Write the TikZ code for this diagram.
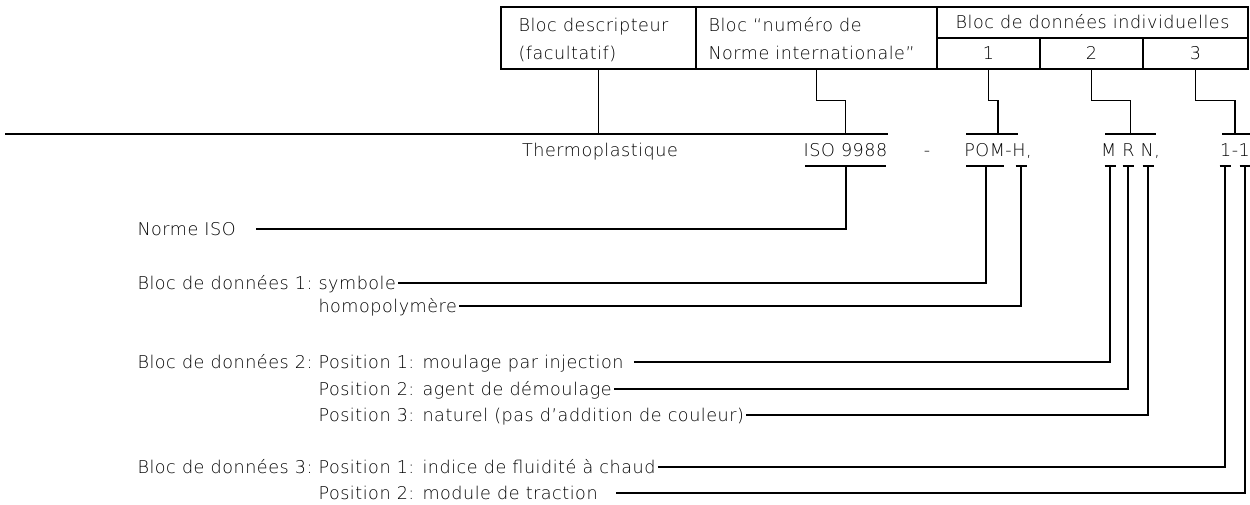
\documentclass[tikz,border=0pt]{standalone}
\usepackage{fontspec}
\usepackage{tikz}
\newfontfamily\isofont{DejaVu Sans}[UprightFont={* ExtraLight}, LetterSpace=3]

\tikzset{
  txt/.style={font=\isofont\fontsize{10}{12}\selectfont, inner sep=0pt, text height=7.3pt, text depth=0pt},
  cell/.style={draw, txt},
  lbl/.style={txt, anchor=west},
}

\begin{document}
\begin{tikzpicture}[x=0.2mm,y=-0.2mm,line width=0.6pt]
            \useasboundingbox (0,0) rectangle (1250,504);

            \node[cell, minimum width=39mm, minimum height=12.4mm] (desc) at (598.5,38) {};
            \node[cell, minimum width=48.2mm, minimum height=12.4mm] (num) at (816.5,38) {};
            \node[cell, minimum width=62.2mm, minimum height=6.2mm] (indiv) at (1092.5,22.5) {Bloc de données individuelles};
            \node[cell, minimum width=20.6mm, minimum height=6.2mm] (c1) at (988.5,53.5) {1};
            \node[cell, minimum width=20.6mm, minimum height=6.2mm] (c2) at (1091.5,53.5) {2};
            \node[cell, minimum width=21mm, minimum height=6.2mm] (c3) at (1195.5,53.5) {3};

            \node[lbl] (descA) at (518,25) {Bloc descripteur};
            \node[lbl] (descB) at (518,53) {(facultatif)};
            \node[lbl] (numA) at (708,25) {Bloc “numéro de};
            \node[lbl] (numB) at (708,53) {Norme internationale”};

            \node[txt] (thermo) at (600,150) {Thermoplastique};
            \node[txt] (iso) at (845.5,150) {ISO 9988};
            \node[txt] (dash) at (927,150) {-};
            \node[txt] (pom) at (998,150) {POM-H,};
            \node[txt] (mrn) at (1130.5,150) {M R N,};
            \node[txt] (oneone) at (1235,150) {1-1};

            \coordinate (top) at (5,134);
            \draw (top) -- (top -| iso.east);
            \draw (966,134) -- (1018,134);
            \draw (1105,134) -- (1156,134);
            \draw (1222,134) -- (1250,134);

            \draw (desc.south) -- (desc.south |- top);
            \draw (num.south) -- ++(0,31) -| (iso.north |- top);
            \draw (c1.south) -- ++(0,31) -| (pom.north |- top);
            \draw (c2.south) -- ++(0,31) -| (mrn.north |- top);
            \draw (c3.south) -- ++(0,31) -| (oneone.north |- top);

            \draw (805,166) -- (886,166);
            \draw (966,166) -- (1004,166);
            \coordinate (tI) at (846,166);
            \coordinate (tP) at (986,166);
            \foreach \x/\name in {1021/tH, 1110/tM, 1128/tR, 1148/tN, 1225/tA, 1245/tB} {
              \draw (\x-5.5,166) -- (\x+5.5,166);
              \coordinate (\name) at (\x,166);
            }

            \node[lbl] (norme) at (137,229) {Norme ISO};
            \node[lbl] (bloc1) at (137,283) {Bloc de données 1:};
            \node[lbl] (symb) at (318,283) {symbole};
            \node[lbl] (homo) at (318,306) {homopolymère};
            \node[lbl] (bloc2) at (137,362) {Bloc de données 2:};
            \node[lbl] (p21) at (318,362) {Position 1: moulage par injection};
            \node[lbl] (p22) at (318,389) {Position 2: agent de démoulage};
            \node[lbl] (p23) at (318,415) {Position 3: naturel (pas d’addition de couleur)};
            \node[lbl] (bloc3) at (137,467) {Bloc de données 3:};
            \node[lbl] (p31) at (318,467) {Position 1: indice de fluidité à chaud};
            \node[lbl] (p32) at (318,493) {Position 2: module de traction};

            \draw ([xshift=4mm]norme.east) -| (tI);
            \draw ([xshift=0.4mm]symb.east) -| (tP);
            \draw ([xshift=0.4mm]homo.east) -| (tH);
            \draw ([xshift=2mm]p21.east) -| (tM);
            \draw ([xshift=0.4mm]p22.east) -| (tR);
            \draw ([xshift=0.4mm]p23.east) -| (tN);
            \draw ([xshift=0.4mm]p31.east) -| (tA);
            \draw ([xshift=3.6mm]p32.east) -| (tB);
\end{tikzpicture}
\end{document}
